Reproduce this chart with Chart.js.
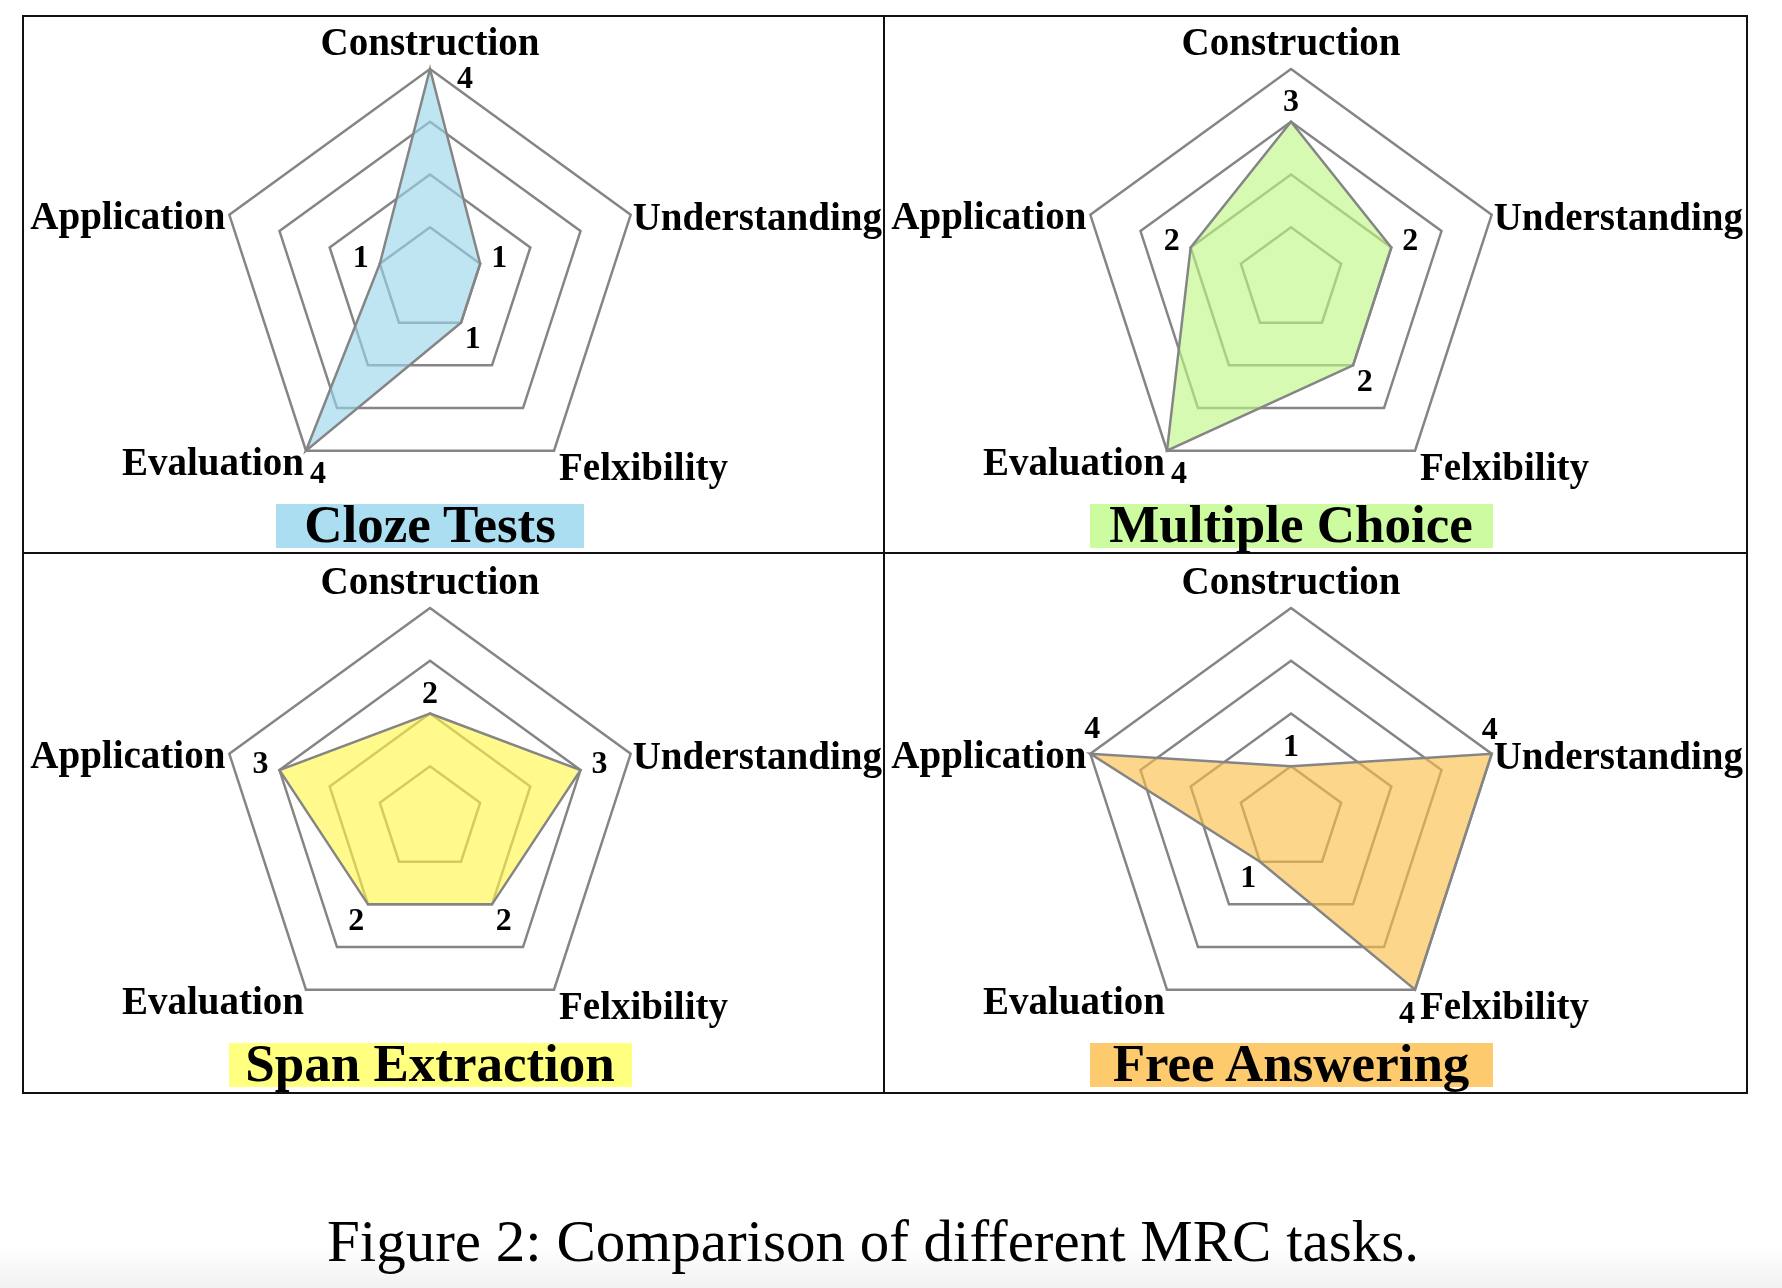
<!DOCTYPE html>
<html>
<head>
<meta charset="utf-8">
<title>Figure 2: Comparison of different MRC tasks</title>
<script src="https://cdn.jsdelivr.net/npm/chart.js@4.4.1/dist/chart.umd.min.js"></script>
<style>
    html, body { margin: 0; padding: 0; }
    body {
        width: 1782px; height: 1288px; position: relative; overflow: hidden;
        background: linear-gradient(to bottom, #ffffff 0px, #ffffff 1245px, #f1f1f1 1288px);
        font-family: "Liberation Serif", "Times New Roman", serif;
    }
    .frame { position: absolute; left: 22px; top: 15px; width: 1726px; height: 1079px;
             border: 2px solid #111; box-sizing: border-box; }
    .vline { position: absolute; left: 883px; top: 15px; width: 2px; height: 1079px; background: #111; }
    .hline { position: absolute; left: 22px; top: 552px; width: 1726px; height: 2px; background: #111; }
    canvas { position: absolute; }
    .task { position: absolute; height: 44px; line-height: 40px; text-align: center;
            font-weight: bold; font-size: 53px; color: #000; white-space: nowrap; }
    .caption { position: absolute; left: 0; top: 1211px; width: 1746px; text-align: center;
               font-size: 59px; line-height: 60px; color: #000; }
</style>
</head>
<body>
<div class="frame"></div>
<div class="vline"></div>
<div class="hline"></div>
<div class="caption">Figure 2: Comparison of different MRC tasks.</div>
<script>
// axes of every radar, clockwise from the top
const categories = ["Construction", "Understanding", "Felxibility", "Evaluation", "Application"];
const tickValues = [0, 1, 2, 3, 4];

const clozeValues = [4, 1, 1, 4, 1];
const multipleChoiceValues = [3, 2, 2, 4, 2];
const spanValues = [2, 3, 2, 2, 3];
const freeValues = [1, 4, 4, 1, 4];

const taskNames = ["Cloze Tests", "Multiple Choice", "Span Extraction", "Free Answering"];
const taskValues = [clozeValues, multipleChoiceValues, spanValues, freeValues];
const fillColors = ["rgba(153,214,234,0.63)", "rgba(191,247,133,0.63)", "rgba(255,247,72,0.63)", "rgba(250,190,72,0.63)"];
const titleColors = ["#aadef0", "#cdfb9f", "#ffff80", "#fdcb6e"];
const titleWidths = [308, 403, 403, 403];

const _gray = "#858585";
const CELL_W = 861, CELL_H = 537;
const cellLeft = [23, 884];
const cellTop = [16, 555];

// where the axis names sit relative to the outer vertex
function axisLabelPlace(i) {
    switch (i) {
        case 0: return { align: "center", dx: 0, dy: -14 };
        case 1: return { align: "left", dx: 2, dy: 15 };
        case 2: return { align: "left", dx: 5, dy: 29 };
        case 3: return { align: "right", dx: -2, dy: 24 };
        default: return { align: "right", dx: -4, dy: 14 };
    }
}
// value labels on the outer ring would hit the axis names, so they move aside
const maxLabelShift = [[35, 10], [-2, -24], [-8, 24], [12, 23], [2, -25]];

const radarLabels = {
    id: "radarLabels",
    afterDatasetsDraw(chart) {
        let ctx = chart.ctx;
        let scale = chart.scales.r;
        let values = chart.data.datasets[0].data;
        ctx.save();
        ctx.fillStyle = "#000";
        ctx.textBaseline = "alphabetic";
        ctx.font = "bold 39px 'Liberation Serif'";
        for (let i = 0; i < categories.length; i++) {
            let p = scale.getPointPosition(i, scale.drawingArea);
            let place = axisLabelPlace(i);
            ctx.textAlign = place.align;
            ctx.fillText(categories[i], p.x + place.dx, p.y + place.dy);
        }
        ctx.font = "bold 32px 'Liberation Serif'";
        ctx.textAlign = "center";
        ctx.textBaseline = "middle";
        for (let i = 0; i < values.length; i++) {
            let p = scale.getPointPositionForValue(i, values[i]);
            let x, y;
            if (values[i] == scale.max) {
                x = p.x + maxLabelShift[i][0];
                y = p.y + maxLabelShift[i][1];
            } else {
                let a = scale.getIndexAngle(i) - Math.PI / 2;
                x = p.x + Math.cos(a) * 20;
                y = p.y + Math.sin(a) * 20;
            }
            ctx.fillText(String(values[i]), x, y + 1);
        }
        ctx.restore();
    }
};

function radarGenerator(k) {
    let col = k % 2, row = Math.floor(k / 2);
    let _canvas = document.createElement("canvas");
    _canvas.width = CELL_W;
    _canvas.height = CELL_H;
    _canvas.style.left = cellLeft[col] + "px";
    _canvas.style.top = cellTop[row] + "px";
    document.body.appendChild(_canvas);

    new Chart(_canvas.getContext("2d"), {
        type: "radar",
        data: {
            labels: categories,
            datasets: [{
                data: taskValues[k],
                backgroundColor: fillColors[k],
                borderColor: _gray,
                borderWidth: 2.5,
                pointRadius: 0,
                fill: true
            }]
        },
        options: {
            responsive: false,
            animation: false,
            devicePixelRatio: 1,
            layout: { padding: { left: 196, top: 53, right: 243, bottom: 62 } },
            plugins: { legend: { display: false }, tooltip: { enabled: false } },
            scales: {
                r: {
                    min: tickValues[0],
                    max: tickValues[tickValues.length - 1],
                    ticks: { display: false, stepSize: 1 },
                    grid: { color: _gray, lineWidth: 2.5 },
                    angleLines: { display: false },
                    pointLabels: { display: false }
                }
            }
        },
        plugins: [radarLabels]
    });

    let _title = document.createElement("div");
    _title.className = "task";
    _title.textContent = taskNames[k];
    _title.style.width = titleWidths[k] + "px";
    _title.style.left = (cellLeft[col] + 407 - titleWidths[k] / 2) + "px";
    _title.style.top = (cellTop[row] + 488) + "px";
    _title.style.background = titleColors[k];
    document.body.appendChild(_title);
}

for (let k = 0; k < taskNames.length; k++) {
    radarGenerator(k);
}
</script>
</body>
</html>
